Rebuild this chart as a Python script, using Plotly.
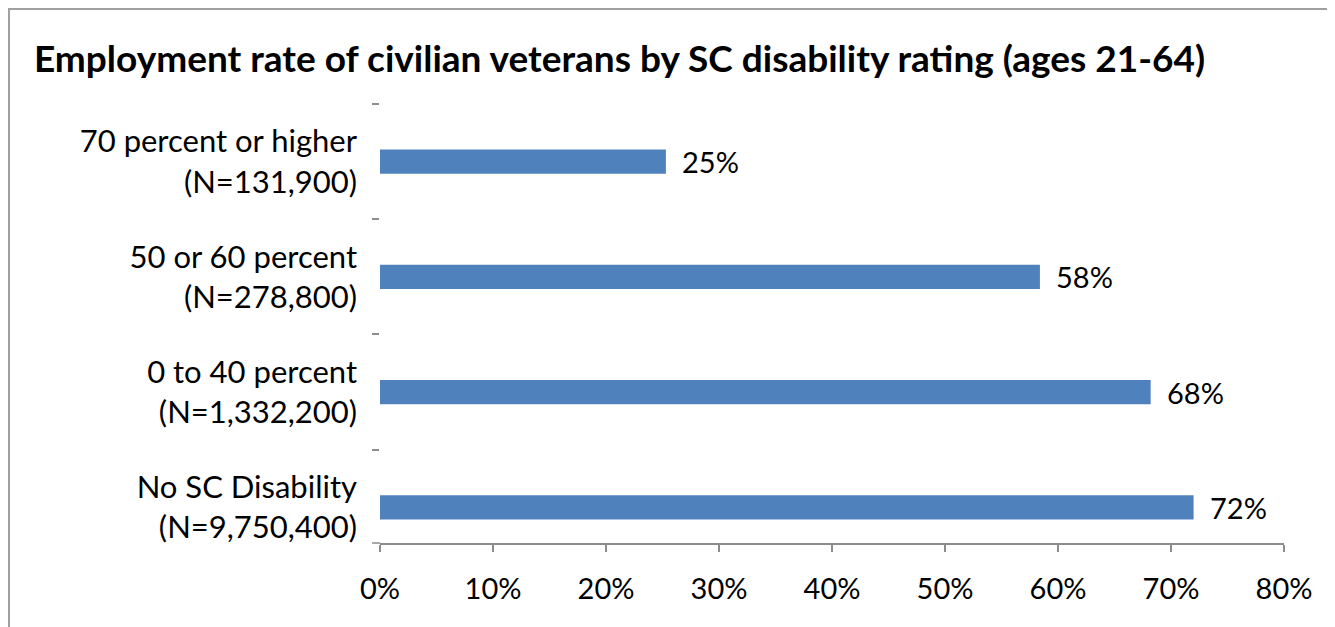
import plotly.graph_objects as go

categories = ["No SC Disability<br>(N=9,750,400)",
              "0 to 40 percent<br>(N=1,332,200)",
              "50 or 60 percent<br>(N=278,800)",
              "70 percent or higher<br>(N=131,900)"]
values = [72.0, 68.2, 58.4, 25.3]
x_ticks = [0, 10, 20, 30, 40, 50, 60, 70, 80]
x_tick_labels = [f"{v}%" for v in x_ticks]
title = "Employment rate of civilian veterans by SC disability rating (ages 21-64)"

# page body has an 8px margin, so the figure is slightly smaller than the window
W, H = 1327, 619
L, R, T, B = 372, 51, 96, 84
FONT = "Lato"
BAR = "#4F81BD"
AX = "#8C8C8C"

fig = go.Figure()
fig.add_trace(go.Bar(
    y=categories, x=values, orientation="h",
    marker=dict(color=BAR, line=dict(width=0)),
    width=0.21, hoverinfo="skip", showlegend=False,
))

for c, v in zip(categories, values):
    fig.add_annotation(x=v, y=c, xref="x", yref="y", text=f"{v:.0f}%",
                       showarrow=False, xanchor="left", yanchor="middle",
                       xshift=14, font=dict(family=FONT, size=29, color="#000"))

pw = W - L - R
ph = H - T - B
def px(xp):
    return (xp - L) / pw
def py(yp):
    return (H - B - yp) / ph

# outer border
fig.add_shape(type="rect", xref="paper", yref="paper",
              x0=px(1), x1=px(1324.5), y0=py(640), y1=py(1),
              line=dict(color="#A0A0A0", width=2), fillcolor="rgba(0,0,0,0)", layer="below")
# small extension of x-axis line to the left
fig.add_shape(type="line", xref="paper", yref="paper",
              x0=px(364), x1=0, y0=0, y1=0,
              line=dict(color=AX, width=1.5))

fig.update_layout(
    width=W, height=H,
    margin=dict(l=L, r=R, t=T, b=B, pad=0),
    paper_bgcolor="white", plot_bgcolor="white",
    font=dict(family=FONT, size=29, color="#000"),
    title=dict(text=f"<b>{title}</b>", x=26 / W, xanchor="left",
               xref="container", yref="container", y=1 - 51 / H, yanchor="middle",
               font=dict(family=FONT, size=37, color="#000")),
    xaxis=dict(range=[0, 80], tickvals=x_ticks, ticktext=x_tick_labels,
               showgrid=False, zeroline=False, showline=True, linecolor=AX, linewidth=1.5,
               ticks="outside", ticklen=7, tickcolor=AX, tickwidth=1.5,
               ticklabelstandoff=12, tickfont=dict(family=FONT, size=29, color="#000"),
               fixedrange=True),
    yaxis=dict(type="category", categoryorder="array", categoryarray=categories,
               range=[-0.31, 3.5], tickson="boundaries",
               showgrid=False, zeroline=False, showline=False,
               ticks="outside", ticklen=7, tickcolor=AX, tickwidth=1.5,
               ticklabelstandoff=22, tickfont=dict(family=FONT, size=31, color="#000"),
               fixedrange=True),
)

fig.write_html("out.html")
